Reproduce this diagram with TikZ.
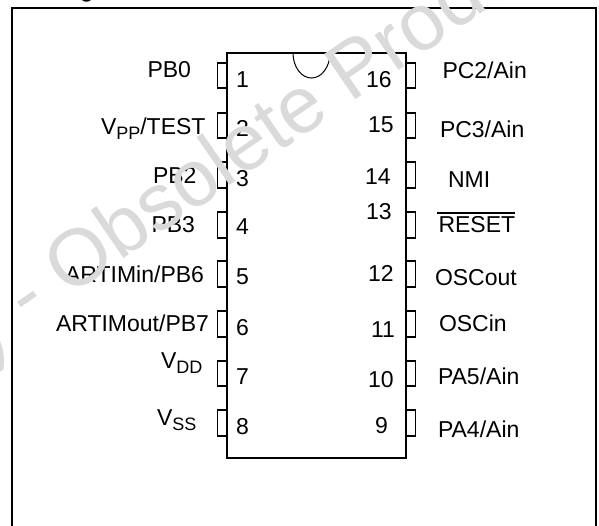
\documentclass[tikz,border=0pt]{standalone}
\usepackage{fontspec}
\setmainfont{Liberation Sans}
\definecolor{wm}{HTML}{DADADA}
\newcommand{\subtxt}[1]{\raisebox{-5pt}{\fontsize{18}{20}\selectfont #1}}
\tikzset{
  lbl/.style={anchor=base west,inner sep=0pt,outer sep=0pt,font=\fontsize{23}{26}\selectfont},
  frameline/.style={line width=1.7pt,black},
  chipline/.style={line width=1.6pt,black},
  pinline/.style={line width=1.4pt,black},
  notchline/.style={line width=1pt,black},
  wmark/.style={anchor=base west,inner sep=0pt,text=wm,rotate=34.5,font=\fontsize{80}{90}\selectfont}
}
\begin{document}
\begin{tikzpicture}[x=1pt,y=-1pt]
\useasboundingbox (0,0) rectangle (599,526);
\fill[white] (0,0) rectangle (599,526);
\begin{scope}
\clip (0,0) rectangle (599,526);
\node[anchor=base west,inner sep=0pt,font=\bfseries\fontsize{22}{26}\selectfont] (title) at (80,-2) {g};
\draw[frameline] (12,527) -- (12,8) -- (596,8) -- (596,527);
\draw[chipline] (227,53) rectangle (406,458);
\draw[notchline] (293,53) arc[start angle=180,end angle=360,x radius=18.5,y radius=-25];
\foreach \a/\b in {63/88,113/138,162/188,212/238,261/287,311/337,361/386,410/436}{
  \draw[pinline] (227,\a) -- (217.5,\a) -- (217.5,\b) -- (227,\b);
  \draw[pinline] (406,\a) -- (415.5,\a) -- (415.5,\b) -- (406,\b);
}
% left labels
\node[lbl] (pb0) at (147.5,78) {PB0};
\node[lbl] (vpp) at (101,135) {V\subtxt{PP}/TEST};
\node[lbl] (pb2) at (153,184) {PB2};
\node[lbl] (pb3) at (151.5,233) {PB3};
\node[lbl,anchor=base east] (pb6) at (204,283) {ARTIMin/PB6};
\node[lbl] (pb7) at (56,331) {ARTIMout/PB7};
\node[lbl] (vdd) at (161,368) {V\subtxt{DD}};
\node[lbl] (vss) at (157,425) {V\subtxt{SS}};
% right labels
\node[lbl] (pc2) at (442.5,78.5) {PC2/Ain};
\node[lbl] (pc3) at (440,138) {PC3/Ain};
\node[lbl] (nmi) at (448,187.5) {NMI};
\node[lbl] (rst) at (438.5,233) {RESET};
\draw[line width=1.2pt] ([shift={(-1.5,-20)}]rst.base west) -- ([shift={(0,-20)}]rst.base east);
\node[lbl] (osco) at (435,286) {OSCout};
\node[lbl] (osci) at (439,331) {OSCin};
\node[lbl] (pa5) at (438,384) {PA5/Ain};
\node[lbl] (pa4) at (438,437) {PA4/Ain};
% pin numbers
\foreach \n/\x/\y in {1/236/87.5,2/236/137,3/236/186.5,4/236/235,5/236/285,6/236/335,7/236/384,8/236/434,
  16/366/87.5,15/368/133,14/365/185,13/366/220,12/368/282,11/371/337,10/368/387,9/375/433}{
  \node[lbl] (n\n) at (\x,\y) {\n};
}
% watermark
\node[wmark] (wma) at (-12,361) {)};
\node[wmark] (wmb) at (28,325) {- Obsolete Produ};
\end{scope}
\end{tikzpicture}
\end{document}
